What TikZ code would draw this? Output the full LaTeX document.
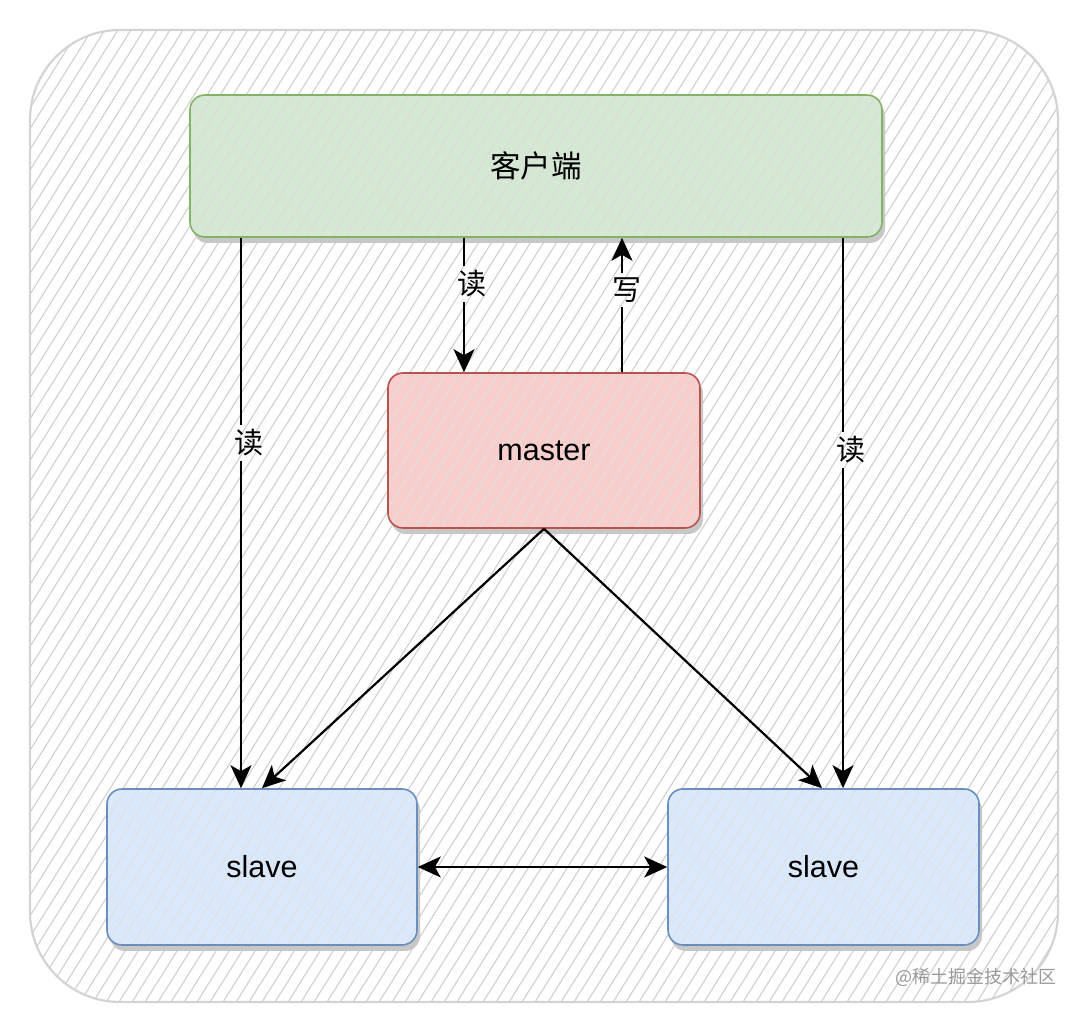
\documentclass[tikz,border=0pt]{standalone}
\usepackage{fontspec}
\setmainfont{Liberation Sans}
\newfontfamily\cjk{Noto Sans CJK SC}
\usetikzlibrary{calc,shadows,arrows.meta}
\definecolor{gfill}{HTML}{D5E8D4}\definecolor{gline}{HTML}{82B366}
\definecolor{rfill}{HTML}{F8CECC}\definecolor{rline}{HTML}{B85450}
\definecolor{bfill}{HTML}{DAE8FC}\definecolor{bline}{HTML}{6C8EBF}
\tikzset{
  hatchline/.style={line width=1pt},
  hatch/.style={path picture={
    \foreach \i in {-900,-887,...,900}{
      \draw[hatchline,#1] ($(path picture bounding box.center)+(\i-320,-510)$) -- ++(640,1020);}}},
  box/.style={rounded corners=15pt, line width=1.6pt, font=\fontsize{30.5}{34}\selectfont,
    general shadow={fill=black!22, shadow xshift=3pt, shadow yshift=-6pt, rounded corners=15pt}},
  tip/.tip={Stealth[length=23pt,width=21pt,inset=6pt]},
  plain/.style={line width=2.2pt},
  conn/.style={line width=2.2pt, -tip},
  lab/.style={font=\cjk\fontsize{29}{32}\selectfont, inner sep=4pt},
}
\begin{document}
\begin{tikzpicture}[x=1pt,y=1pt]
\useasboundingbox (0,0) rectangle (1086,1014);
\fill[white] (0,0) rectangle (1086,1014);
% outer container
\node[draw=black!17, line width=2.2pt, rounded corners=90pt, minimum width=1028pt, minimum height=972pt,
  hatch={black!20}] (outer) at (544,498) {};
% boxes
\node[box, fill=gfill, draw=gline, minimum width=692pt, minimum height=142pt, hatch={black!14}] (client) at (536,848) {\cjk 客户端};
\node[box, fill=rfill, draw=rline, minimum width=312pt, minimum height=155pt, hatch={black!12}] (master) at (544,563.5) {master};
\node[box, fill=bfill, draw=bline, minimum width=310pt, minimum height=156pt, hatch={black!12}] (slaveA) at (262,147) {slave};
\node[box, fill=bfill, draw=bline, minimum width=311pt, minimum height=156pt, hatch={black!12}] (slaveB) at (823.5,147) {slave};
% labels
\node[lab] (l1) at (249,571) {读};
\node[lab] (l2) at (472,730) {读};
\node[lab] (l3) at (627,724) {写};
\node[lab] (l4) at (851,564) {读};
% coordinates
\coordinate (c1) at (241,0 |- client.south);
\coordinate (s1) at (241,0 |- slaveA.north);
\coordinate (c2) at (464,0 |- client.south);
\coordinate (m2) at (464,0 |- master.north);
\coordinate (c3) at (622,0 |- client.south);
\coordinate (m3) at (622,0 |- master.north);
\coordinate (c4) at (843,0 |- client.south);
\coordinate (s4) at (843,0 |- slaveB.north);
\coordinate (sa) at (262,0 |- slaveA.north);
\coordinate (sb) at (822,0 |- slaveB.north);
% connectors (broken around their labels)
\draw[plain] (c1) -- (c1 |- l1.north);
\draw[conn] (c1 |- l1.south) -- (s1);
\draw[plain] (c2) -- (c2 |- l2.north);
\draw[conn] (c2 |- l2.south) -- (m2);
\draw[plain] (m3) -- (m3 |- l3.south);
\draw[conn] (m3 |- l3.north) -- (c3);
\draw[plain] (c4) -- (c4 |- l4.north);
\draw[conn] (c4 |- l4.south) -- (s4);
\draw[conn] (master.south) -- (sa);
\draw[conn] (master.south) -- (sb);
\draw[conn, tip-tip] (slaveA.east) -- (slaveB.west);
% watermark
\node[font=\cjk\fontsize{18}{22}\selectfont, text=black!40, anchor=east] (wm) at (1060,37) {@稀土掘金技术社区};
\end{tikzpicture}
\end{document}
